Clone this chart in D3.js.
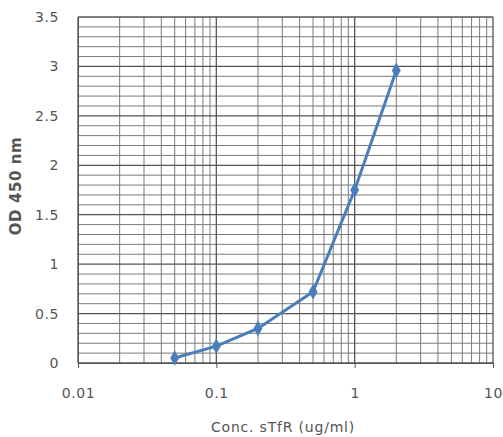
<!DOCTYPE html>
<html>
<head>
<meta charset="utf-8">
<script src="https://cdn.jsdelivr.net/npm/d3@7"></script>
<style>
  body { margin: 0; background: #fff; }
  svg text { font-family: "DejaVu Sans", "Liberation Sans", sans-serif; fill: #555; }
</style>
</head>
<body>
<script>
// data
const conc = [0.05, 0.1, 0.2, 0.5, 1, 2];
const od = [0.05, 0.17, 0.35, 0.72, 1.75, 2.96];
const xTicks = [0.01, 0.1, 1, 10];
const yTicks = [0, 0.5, 1, 1.5, 2, 2.5, 3, 3.5];

const width = 503, height = 437;
const margin = {top: 17, right: 10, bottom: 74, left: 78};
const plotW = width - margin.left - margin.right;
const plotH = height - margin.top - margin.bottom;

const svg = d3.select('body').append('svg')
  .attr('width', width)
  .attr('height', height);

const plot = svg.append('g')
  .attr('transform', `translate(${margin.left},${margin.top})`);

const x = d3.scaleLog().domain([0.01, 10]).range([0, plotW]);
const y = d3.scaleLinear().domain([0, 3.5]).range([plotH, 0]);

// minor vertical grid: 2..9 of each decade
const xMinor = [];
[0.01, 0.1, 1].forEach(dec => {
  for (let k = 2; k <= 9; k++) xMinor.push(dec * k);
});
plot.append('g').selectAll('line').data(xMinor).join('line')
  .attr('x1', d => x(d)).attr('x2', d => x(d))
  .attr('y1', 0).attr('y2', plotH)
  .attr('stroke', '#7a7a7a').attr('stroke-width', 1);

// minor horizontal grid every 0.1
const yMinor = d3.range(1, 35).map(i => i / 10).filter(v => Math.round(v * 10) % 5 !== 0);
plot.append('g').selectAll('line').data(yMinor).join('line')
  .attr('x1', 0).attr('x2', plotW)
  .attr('y1', d => y(d)).attr('y2', d => y(d))
  .attr('stroke', '#7a7a7a').attr('stroke-width', 1);

// major grid
plot.append('g').selectAll('line').data(xTicks).join('line')
  .attr('x1', d => x(d)).attr('x2', d => x(d))
  .attr('y1', 0).attr('y2', plotH)
  .attr('stroke', '#555').attr('stroke-width', 1.3);
plot.append('g').selectAll('line').data(yTicks).join('line')
  .attr('x1', 0).attr('x2', plotW)
  .attr('y1', d => y(d)).attr('y2', d => y(d))
  .attr('stroke', '#555').attr('stroke-width', 1.3);

// axes
const xAxis = d3.axisBottom(x).tickValues(xTicks).tickFormat(d3.format('')).tickSize(5).tickPadding(20);
const yAxis = d3.axisLeft(y).tickValues(yTicks).tickFormat(d3.format('')).tickSize(0).tickPadding(19);

plot.append('g')
  .attr('transform', `translate(0,${plotH})`)
  .call(xAxis)
  .call(g => g.select('.domain').attr('stroke', '#555'))
  .call(g => g.selectAll('.tick line').attr('stroke', '#555'))
  .call(g => g.selectAll('text').attr('font-size', 14).attr('letter-spacing', 0.6)
    .attr('font-family', '"DejaVu Sans", sans-serif').attr('fill', '#555'));

plot.append('g')
  .call(yAxis)
  .call(g => g.select('.domain').attr('stroke', '#555'))
  .call(g => g.selectAll('text').attr('font-size', 14).attr('letter-spacing', 0.6)
    .attr('font-family', '"DejaVu Sans", sans-serif').attr('fill', '#555'));

// line + diamond markers
const line = d3.line()
  .x((d, i) => x(conc[i]))
  .y(d => y(d));

plot.append('path')
  .datum(od)
  .attr('d', line)
  .attr('fill', 'none')
  .attr('stroke', '#4a7ebb')
  .attr('stroke-width', 3);

plot.append('g').selectAll('path').data(od).join('path')
  .attr('d', d3.symbol().type(d3.symbolDiamond).size(70))
  .attr('transform', (d, i) => `translate(${x(conc[i])},${y(d)})`)
  .attr('fill', '#4a7ebb');

// titles
svg.append('text')
  .attr('x', 283)
  .attr('y', 432)
  .attr('text-anchor', 'middle')
  .attr('font-size', 14)
  .attr('letter-spacing', 0.8)
  .attr('fill', '#444')
  .text('Conc. sTfR (ug/ml)');

svg.append('text')
  .attr('transform', `translate(21,186) rotate(-90)`)
  .attr('text-anchor', 'middle')
  .attr('font-size', 15)
  .attr('font-weight', 'bold')
  .attr('letter-spacing', 0.6)
  .attr('fill', '#333')
  .text('OD 450 nm');
</script>
</body>
</html>
